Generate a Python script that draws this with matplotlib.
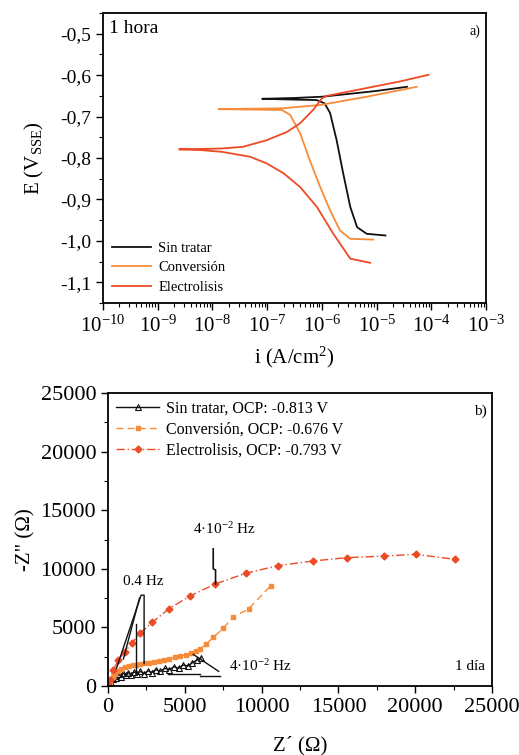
import matplotlib
matplotlib.use("Agg")
import matplotlib.pyplot as plt
import matplotlib.ticker as mticker
import numpy as np

plt.rcParams['font.family'] = ['Liberation Serif', 'DejaVu Serif']
plt.rcParams['mathtext.fontset'] = 'custom'
plt.rcParams['mathtext.rm'] = 'Liberation Serif'
plt.rcParams['mathtext.it'] = 'Liberation Serif:italic'
plt.rcParams['axes.unicode_minus'] = False

BLACK = '#111111'
ORANGE = '#f68c3a'
RED = '#ec4b26'

# ---- a) polarisation curves (1 hora) ----
i_sin = [1.45e-5, 6.6e-6, 4.4e-6, 3.3e-6, 2.45e-6, 1.86e-6, 1.41e-6, 1.12e-6, 8e-7, 3.2e-7, 8.1e-8,
         3.2e-7, 1e-6, 3.2e-6, 1e-5, 3.6e-5]
E_sin = [-0.987, -0.983, -0.967, -0.918, -0.837, -0.757, -0.691, -0.668, -0.660, -0.659, -0.657,
         -0.655, -0.652, -0.645, -0.638, -0.628]

i_conv = [8.7e-6, 3.3e-6, 2.14e-6, 1.41e-6, 9.3e-7, 6.0e-7, 4.0e-7, 2.63e-7, 1.86e-7, 5e-8, 1.3e-8,
          5e-8, 1.86e-7, 9.3e-7, 6.6e-6, 5.4e-5]
E_conv = [-0.997, -0.995, -0.975, -0.926, -0.870, -0.805, -0.740, -0.696, -0.684, -0.683, -0.682,
          -0.681, -0.680, -0.672, -0.652, -0.628]

i_elec = [7.6e-6, 3.3e-6, 1.62e-6, 8.1e-7, 4.0e-7, 2.0e-7, 9.8e-8, 4.9e-8, 1.48e-8, 6.3e-9, 2.45e-9,
          6.3e-9, 1.48e-8, 3.6e-8, 9.8e-8, 2.3e-7, 4.0e-7, 6.9e-7, 1.0e-6, 1.23e-6, 6.6e-6, 2.7e-5, 8.9e-5]
E_elec = [-1.053, -1.043, -0.983, -0.918, -0.870, -0.837, -0.813, -0.797, -0.785, -0.781, -0.779,
          -0.778, -0.777, -0.773, -0.757, -0.737, -0.716, -0.684, -0.656, -0.650, -0.631, -0.615, -0.599]

# ---- b) Nyquist (1 dia) ----
zr_sin = [50, 200, 350, 450, 550, 700, 850, 1000, 1150, 1300, 1500, 1700, 1900, 2100, 2350, 2600,
          2850, 3100, 3400, 3700, 4000, 4300, 4600, 4900, 5200, 5500, 5800, 6050]
zi_sin = [0, 250, 600, 850, 700, 1000, 800, 1100, 900, 1150, 950, 1200, 1000, 1250, 1050, 1300,
          1150, 1400, 1250, 1500, 1400, 1650, 1500, 1800, 1700, 2000, 2200, 2400]

zr_conv = [60, 150, 300, 450, 650, 850, 1100, 1350, 1600, 1850, 2100, 2400, 2700, 3000, 3300, 3650,
           4000, 4350, 4700, 5050, 5400, 5700, 6000, 6400, 6850, 7500, 8150, 9150, 10600]
zi_conv = [150, 450, 800, 1050, 1300, 1450, 1600, 1680, 1760, 1820, 1880, 1940, 2000, 2080, 2160, 2240,
           2340, 2440, 2560, 2680, 2820, 2950, 3150, 3580, 4150, 4920, 5900, 6570, 8560]

zr_elec = [20, 130, 347, 673, 1107, 1541, 2083, 2886, 3971, 5339, 6966, 8964, 11047, 13325, 15538,
           17969, 20030, 22591]
zi_elec = [85, 512, 1365, 2218, 2929, 3640, 4494, 5432, 6598, 7679, 8703, 9614, 10267, 10666, 10950,
           11092, 11235, 10808]

fig = plt.figure(figsize=(5.19, 7.55), dpi=100)

ax1 = fig.add_axes([0.1985, 0.5987, 0.738, 0.384])
ax1.plot(i_sin, E_sin, color=BLACK, lw=1.3, label='Sin tratar')
ax1.plot(i_conv, E_conv, color=ORANGE, lw=1.3, label='Conversión')
ax1.plot(i_elec, E_elec, color=RED, lw=1.3, label='Electrolisis')
ax1.set_xscale('log')
ax1.set_xlim(1e-10, 1e-3)
ax1.set_ylim(-1.15, -0.45)
ax1.xaxis.set_major_locator(mticker.LogLocator(base=10, numticks=20))
ax1.xaxis.set_minor_locator(mticker.LogLocator(base=10, subs=np.arange(2, 10), numticks=20))
ax1.xaxis.set_minor_formatter(mticker.NullFormatter())
ax1.yaxis.set_major_locator(mticker.MultipleLocator(0.1))
ax1.yaxis.set_minor_locator(mticker.MultipleLocator(0.05))
ax1.yaxis.set_major_formatter(mticker.FuncFormatter(lambda v, p: f"{v:.1f}".replace('.', ',')))
ax1.tick_params(axis='y', labelsize=14)
ax1.tick_params(axis='x', labelsize=15, pad=4)
ax1.set_xlabel('i (A/cm$^2$)', fontsize=15, labelpad=6)
ax1.set_ylabel('E (V$_{\\mathrm{SSE}}$)', fontsize=15, labelpad=10)
ax1.text(0.015, 0.975, '1 hora', transform=ax1.transAxes, fontsize=14, va='top', ha='left')
ax1.text(0.985, 0.96, 'a)', transform=ax1.transAxes, fontsize=10, va='top', ha='right')
ax1.legend(loc='lower left', frameon=False, fontsize=10.5, handlelength=2.7, handletextpad=0.5,
           labelspacing=0.45, borderaxespad=0.2)

ax2 = fig.add_axes([0.2081, 0.0914, 0.740, 0.388])
ax2.plot(zr_sin, zi_sin, color=BLACK, lw=1.0, marker='^', ms=5, mfc='none', mec=BLACK, mew=0.8,
         label='Sin tratar, OCP: -0.813 V')
ax2.plot(zr_conv, zi_conv, color=ORANGE, lw=1.0, ls=(0, (5, 3)), marker='s', ms=3.5,
         label='Conversión, OCP: -0.676 V')
ax2.plot(zr_elec, zi_elec, color=RED, lw=1.0, ls=(0, (6, 2, 1, 2)), marker='D', ms=3.5,
         label='Electrolisis, OCP: -0.793 V')
# frequency callouts
ax2.plot([550, 2150, 2350, 2350], [1500, 7750, 7750, 1900], color=BLACK, lw=1.0)
ax2.plot([1000, 2050], [2300, 7500], color=BLACK, lw=1.0)
ax2.plot([1850, 1850], [5300, 1100], color=BLACK, lw=1.0)
ax2.plot([6850, 6850, 7000, 7000], [11700, 10000, 9900, 8700], color=BLACK, lw=1.2)
ax2.plot([5550, 7200], [2700, 1250], color=BLACK, lw=1.0)
ax2.plot([3900, 6000], [1020, 1020], color=BLACK, lw=1.0)
ax2.plot([6000, 7300], [850, 850], color=BLACK, lw=1.0)
ax2.text(2300, 8900, '0.4 Hz', fontsize=11, ha='center', va='center')
ax2.text(7600, 13400, '4·10$^{-2}$ Hz', fontsize=11, ha='center', va='center')
ax2.text(9900, 1700, '4·10$^{-2}$ Hz', fontsize=11, ha='center', va='center')
ax2.text(24550, 1700, '1 día', fontsize=11, ha='right', va='center')
ax2.text(0.985, 0.96, 'b)', transform=ax2.transAxes, fontsize=11, va='top', ha='right')
ax2.set_xlim(0, 25000)
ax2.set_ylim(0, 25000)
ax2.xaxis.set_major_locator(mticker.MultipleLocator(5000))
ax2.xaxis.set_minor_locator(mticker.MultipleLocator(2500))
ax2.yaxis.set_major_locator(mticker.MultipleLocator(5000))
ax2.yaxis.set_minor_locator(mticker.MultipleLocator(2500))
ax2.tick_params(labelsize=16)
ax2.set_xlabel('Z´ (Ω)', fontsize=15, labelpad=14)
ax2.set_ylabel('-Z" (Ω)', fontsize=15, labelpad=4)
ax2.legend(loc='upper left', frameon=False, fontsize=11.5, handlelength=2.7, handletextpad=0.4,
           labelspacing=0.3, borderaxespad=0.1)

for ax in (ax1, ax2):
    for s in ax.spines.values():
        s.set_linewidth(1.3)
    ax.tick_params(which='major', direction='out', length=5, width=1.0, top=False, right=False)
    ax.tick_params(which='minor', direction='out', length=3, width=0.8, top=False, right=False)

fig.savefig('out.png', dpi=100)
